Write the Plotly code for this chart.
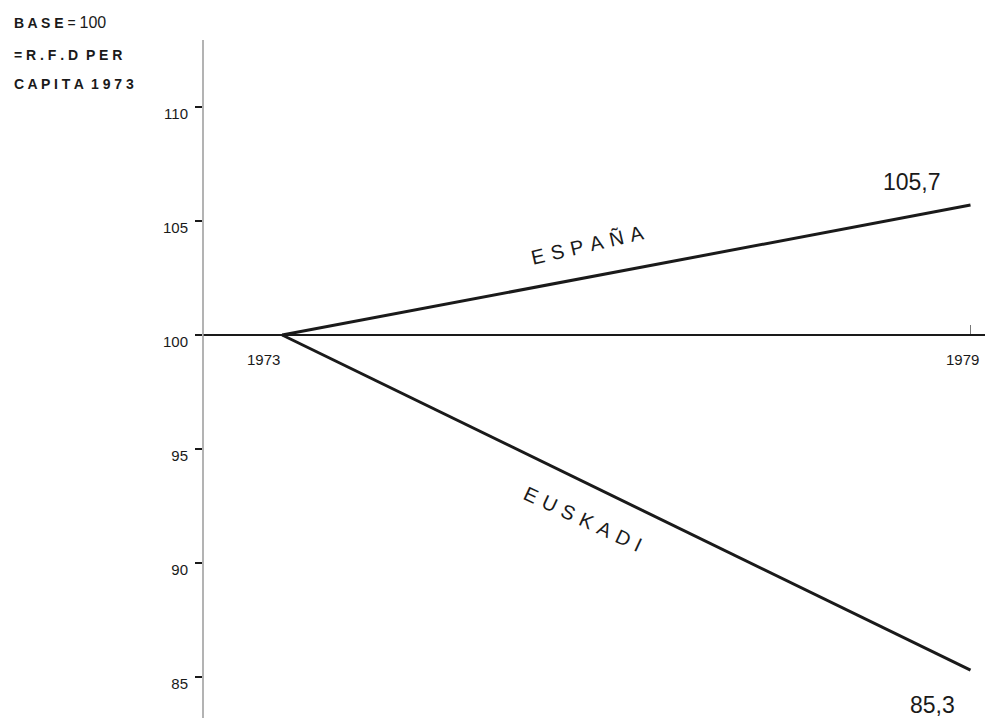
"""
Renta familiar disponible per capita, 1973-1979 (base 1973 = 100)
"""
import plotly.graph_objects as go

# --- Data ---
years = [1973, 1979]
espana = [100, 105.7]
euskadi = [100, 85.3]
y_ticks = [85, 90, 95, 100, 105, 110]

# --- Styling ---
INK = '#1a1a1a'
FONT = "Liberation Sans, Arial, sans-serif"
Y_MIN, Y_MAX = 83.2, 112.94
X_MIN, X_MAX = 1972.31, 1979.17
SP = '\u2004'  # three-per-em space for letter-spaced labels

# plot area on screen (page has an 8px body margin)
PX_L, PX_R, PX_T, PX_B = 203, 990, 40, 718


def paper_xy(sx, sy):
    """screen pixel -> paper coords"""
    return (sx - PX_L) / (PX_R - PX_L), 1 - (sy - PX_T) / (PX_B - PX_T)


fig = go.Figure()

fig.add_trace(go.Scatter(
    x=years, y=espana, mode='lines', name='ESPAÑA',
    line=dict(color=INK, width=3)
))
fig.add_trace(go.Scatter(
    x=years, y=euskadi, mode='lines', name='EUSKADI',
    line=dict(color=INK, width=3)
))

# vertical (grey, scanned-looking) axis line
fig.add_shape(type='line', xref='x domain', yref='paper',
              x0=0, x1=0, y0=0, y1=1,
              line=dict(color='#9a9a9a', width=1.5))

annotations = []

# header top-left
header = [
    ("<b>B A S E</b> = <span style='font-size:16px'>100</span>", 12, 23),
    ("<b>=\u00a0R . F . D \u00a0P E R</b>", 12, 55),
    ("<b>C A P I T A \u00a01 9 7 3</b>", 12, 84),
]
for text, sx, sy in header:
    px, py = paper_xy(sx, sy)
    annotations.append(dict(
        text=text, x=px, y=py, xref='paper', yref='paper',
        xanchor='left', yanchor='middle', showarrow=False,
        font=dict(size=14, color=INK, family=FONT)))

# x tick labels sitting just below the base line
annotations += [
    dict(x=years[0], y=100, text="1973", xshift=-19, yshift=-24,
         showarrow=False, font=dict(size=15, color=INK, family=FONT)),
    dict(x=years[1], y=100, text="1979", xshift=-8, yshift=-24,
         showarrow=False, font=dict(size=15, color=INK, family=FONT)),
]

# end values
annotations += [
    dict(x=years[1], y=espana[1], text="105,7", xshift=-59, yshift=23,
         showarrow=False, font=dict(size=23, color=INK, family=FONT)),
    dict(x=years[1], y=euskadi[1], text="85,3", xshift=-38, yshift=-35,
         showarrow=False, font=dict(size=23, color=INK, family=FONT)),
]

# series names along the lines
annotations += [
    dict(x=1975.66, y=103.95, text=SP.join("ESPAÑA"), textangle=-13,
         showarrow=False, font=dict(size=20, color=INK, family=FONT)),
    dict(x=1975.62, y=91.93, text=SP.join("EUSKADI"), textangle=25,
         showarrow=False, font=dict(size=20, color=INK, family=FONT)),
]

fig.update_layout(
    width=993, height=718,
    margin=dict(l=195, r=11, t=32, b=8),
    paper_bgcolor='white', plot_bgcolor='white',
    showlegend=False,
    font=dict(family=FONT, color=INK),
    annotations=annotations,
    xaxis=dict(
        range=[X_MIN, X_MAX], anchor='free',
        position=(100 - Y_MIN) / (Y_MAX - Y_MIN),
        showline=True, linecolor=INK, linewidth=1.5,
        tickvals=[years[1]], ticks='inside', ticklen=9, tickcolor='#777',
        showticklabels=False, showgrid=False, zeroline=False,
    ),
    yaxis=dict(
        range=[Y_MIN, Y_MAX], tickvals=y_ticks,
        ticks='outside', ticklen=7, tickcolor=INK, tickwidth=1.5,
        tickfont=dict(size=15, color=INK, family=FONT),
        ticklabelstandoff=4, ticklabelshift=7,
        showline=False, showgrid=False, zeroline=False,
    ),
)

fig.write_html("out.html")
